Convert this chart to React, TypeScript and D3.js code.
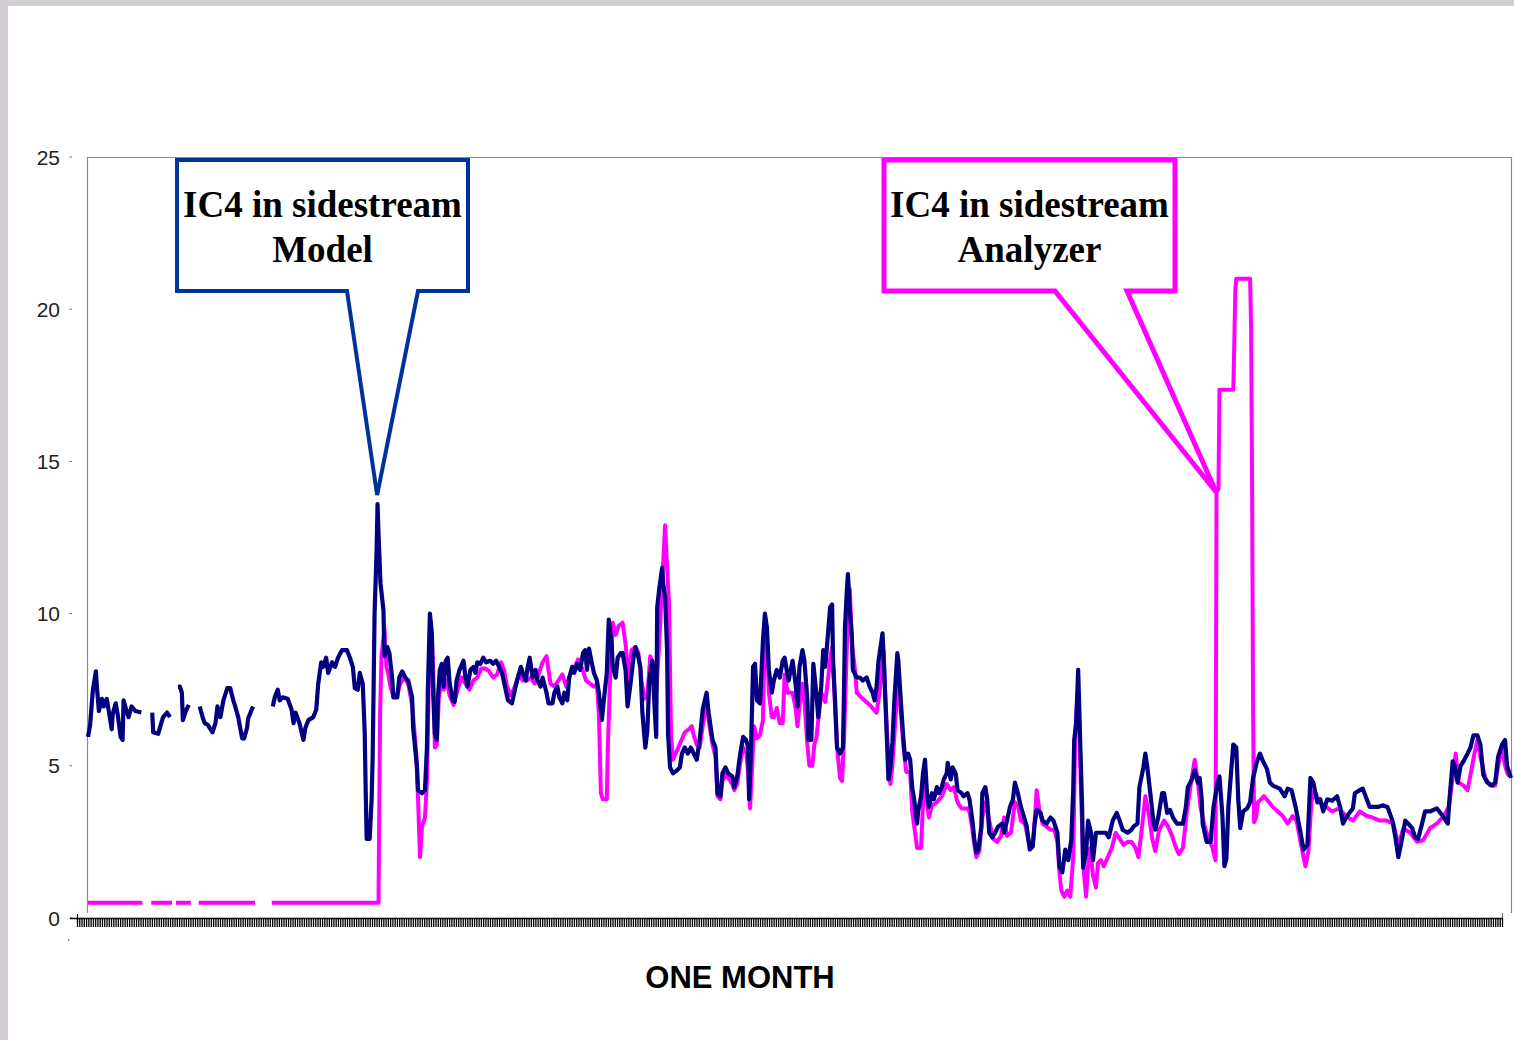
import React from 'react';
import * as d3 from 'd3';

type Pt = [number, number | null];

// y axis tick values
const yTickValues = [0, 5, 10, 15, 20, 25];
const xAxisTitle = 'ONE MONTH';
const modelCallout = ['IC4 in sidestream', 'Model'];
const analyzerCallout = ['IC4 in sidestream', 'Analyzer'];
const hoursInMonth = 720;
const axisCategoryCount = 628;

// IC4 in sidestream - Model  [hour, value]
const modelIC4: Pt[] = [
  [0,5.95],[1,6.3],[2.5,7.5],[4,8.1],[4.5,7.6],[5.5,6.8],[7,7.2],[8,6.95],[9.5,7.2],[10.5,6.8],[12,6.2],[12.5,6.7],[14,7.05],[15,6.7],[16.5,5.95],[17.5,5.85],[18,7.15],[19.5,6.8],[20.5,6.6],[22,6.95],[24,6.8],[27,6.75],[29.5,null],
  [32.5,6.75],[33,6.1],[35.5,6.05],[37.5,6.5],[38,6.6],[40,6.75],[41.5,6.6],[43.5,null],
  [45.5,7.6],[46.5,7.6],[47.5,7.4],[48,6.5],[49.5,6.8],[51,7.0],[54,null],
  [56.5,6.95],[58,6.6],[59,6.4],[60.5,6.35],[63,6.1],[64.5,6.4],[65.5,6.95],[67,6.6],[68.5,7.15],[70.5,7.55],[72,7.55],[73.5,7.15],[74.5,6.95],[76,6.6],[78,5.9],[79,5.9],[80.5,6.25],[81,6.55],[83.5,6.95],[88,null],
  [93.5,6.95],[94.5,7.25],[96,7.5],[97,7.15],[98.5,7.25],[101,7.2],[103,6.85],[104,6.4],[105,6.75],[107,6.4],[109,5.85],[110,6.25],[111.5,6.5],[114,6.6],[115.5,6.85],[116.5,7.7],[118,8.4],[119,8.25],[120.5,8.55],[121.5,8.05],[123.5,8.4],[125,8.25],[126.5,8.55],[128.5,8.8],[131,8.8],[132.5,8.55],[134,8.25],[135,7.55],[136.5,7.5],[137.5,8.05],[139,7.7],[139.5,6.95],[140,6.1],[140.5,4.2],[141,2.6],[142.5,2.6],[143.5,3.9],[144,5.2],[144.5,7.5],[145,10.0],[146,12.0],[146.5,13.6],[147,12.6],[148,11.0],[149.5,10.1],[150,8.6],[151.5,8.9],[152.5,8.7],[154,7.8],[154.5,7.25],[156.5,7.25],[157.5,7.9],[159,8.1],[160.5,7.9],[162,7.8],[164,7.25],[164.5,6.25],[166.5,4.95],[167,4.2],[169,4.1],[170.5,4.2],[171.5,5.6],[172,7.6],[173,10.0],[174,9.35],[174.5,7.6],[175.5,6.05],[176.5,5.85],[177,7.15],[178,8.15],[179,8.35],[180,7.6],[181,8.45],[182,8.55],[183,7.7],[184.5,7.15],[185.5,7.1],[186.5,7.8],[188,8.15],[190,8.45],[191,7.9],[192,7.6],[193.5,8.15],[195,8.25],[196,8.05],[197,8.4],[198.5,8.35],[200,8.55],[201.5,8.4],[203.5,8.45],[205,8.35],[206.5,8.45],[208,8.25],[209.5,8.05],[211,7.6],[212.5,7.15],[214.5,7.05],[216,7.5],[217.5,7.9],[219,8.25],[220,8.05],[221.5,7.8],[222.5,8.25],[223.5,8.55],[225,7.9],[226.5,8.15],[227.5,7.8],[229,7.6],[230,7.9],[232,7.4],[233,7.05],[235,7.05],[236,7.4],[237.5,7.6],[238.5,7.25],[240,7.05],[241,7.4],[242.5,7.15],[243.5,7.9],[245,8.25],[246,8.05],[247.5,8.35],[249,8.15],[250.5,8.7],[251.5,8.8],[252.5,8.15],[253.5,8.85],[255,8.35],[256,8.05],[257.5,7.8],[258.5,7.4],[260,6.5],[261,7.15],[262.5,8.05],[263.5,9.8],[265,9.0],[265.5,8.25],[267,7.9],[268,8.55],[269.5,8.7],[270.5,8.7],[272,8.15],[273,6.95],[274.5,7.7],[276,8.55],[277,8.9],[278,8.7],[279.5,8.25],[280.5,6.75],[282,5.6],[283,6.15],[284,7.8],[285.5,8.45],[286.5,7.15],[287.5,5.95],[288,10.2],[289,10.8],[290.5,11.5],[291,11.0],[292,10.55],[293,8.8],[293.5,6.05],[294.5,4.95],[296,4.75],[298,4.85],[299.5,4.95],[300.5,5.4],[302,5.6],[303.5,5.4],[305,5.6],[306.5,5.4],[308,5.2],[309.5,5.85],[311,6.85],[313,7.4],[314,6.75],[316,5.85],[317.5,5.6],[318.5,4.1],[320,4.0],[321,4.75],[322.5,4.95],[324,4.75],[326,4.65],[327,4.3],[328.5,4.65],[330,5.4],[331.5,5.95],[333,5.85],[334,5.6],[334.5,3.9],[335.5,5.6],[336.5,8.25],[337.5,8.35],[338.5,7.15],[340,7.05],[341.5,9.1],[342.5,10.0],[343.5,9.55],[344.5,8.15],[346,7.4],[347,7.8],[348.5,8.15],[350,7.9],[351.5,8.45],[352.5,8.55],[353.5,8.15],[354.5,7.8],[356.5,8.45],[358,7.7],[359,6.95],[360,8.25],[361.5,8.8],[362.5,8.45],[364,7.15],[364.5,5.85],[366,5.85],[367,8.35],[368.5,7.4],[369.5,6.6],[371,7.6],[372,8.8],[373,8.25],[374,9.0],[375.5,10.2],[376.5,10.3],[377,8.45],[378,7.15],[379,5.6],[380.5,5.4],[382,5.6],[382.5,7.4],[383,9.55],[384,10.8],[384.5,11.3],[385.5,10.1],[386.5,9.25],[387,8.15],[389,7.9],[390.5,7.9],[392,7.8],[394,7.9],[395.5,7.6],[397,7.4],[398,7.15],[399,7.6],[400,8.45],[402,9.35],[402.5,8.7],[403.5,7.05],[404.5,5.4],[405,4.55],[406,4.95],[407,5.75],[408,7.15],[409.5,8.7],[410,8.45],[411,7.4],[412.5,5.95],[413.5,5.2],[415,5.4],[416,5.2],[417,4.3],[418,3.9],[419.5,3.1],[420,3.5],[421.5,4.0],[422.5,4.75],[423.5,5.2],[424.5,4.1],[425.5,3.65],[427,4.1],[428,3.9],[429.5,4.3],[430.5,4.1],[432,4.3],[433,4.55],[434.5,4.75],[435,5.1],[436.5,4.55],[437.5,4.95],[439,4.75],[440,4.2],[442,4.1],[443,4.0],[445,4.1],[446,3.9],[447.5,3.2],[448.5,2.55],[449.5,2.15],[450.5,2.25],[452,3.0],[452.5,4.1],[454,4.3],[455,3.9],[456,2.8],[457.5,2.65],[459,2.8],[460.5,3.0],[462.5,3.1],[463.5,2.8],[465,3.2],[466.5,3.65],[468,3.9],[469,4.45],[470.5,4.1],[472,3.65],[473,3.45],[475,3.0],[476.5,2.25],[478,2.35],[479,3.1],[480,3.55],[482,3.45],[483,3.2],[485,3.1],[487,3.3],[488.5,3.2],[490.5,2.8],[491.5,1.7],[493,1.5],[494.5,2.25],[496,1.9],[497.5,2.55],[498.5,4.2],[499,5.85],[500,6.4],[501,8.15],[502,5.85],[503,3.65],[503.5,1.65],[505,2.15],[506,3.2],[507.5,2.8],[508.5,1.9],[510,2.8],[513,2.8],[515,2.8],[516.5,2.65],[518.5,3.2],[520.5,3.45],[522,3.2],[523.5,2.9],[526,2.8],[528,2.9],[529,3.0],[531,3.1],[532,4.3],[534,4.95],[535,5.4],[536,4.95],[537.5,4.1],[539,3.2],[540,2.9],[541.5,3.3],[543.5,4.1],[544.5,4.1],[546,3.45],[547.5,3.55],[549,3.3],[551,3.1],[554,3.1],[555.5,3.65],[556.5,4.3],[558.5,4.55],[560,4.85],[561.5,4.45],[562.5,4.6],[563.5,3.9],[564,3.1],[566,2.5],[568,2.5],[569.5,3.65],[571.5,4.45],[572.5,4.65],[574,3.35],[575,1.7],[576,1.95],[577,3.65],[579,5.3],[579.5,5.7],[581,5.6],[582,3.9],[583,2.95],[584.5,3.5],[586.5,3.6],[588,3.8],[589.5,4.6],[591.5,5.15],[593,5.4],[594.5,5.15],[596.5,4.9],[598,4.45],[599.5,4.35],[603,4.25],[605.5,4.0],[607,4.25],[609,4.2],[611,3.65],[613.5,2.8],[615,2.25],[617,2.4],[618.5,4.6],[620,4.45],[622,3.8],[623.5,3.9],[625,3.5],[627,3.9],[629.5,3.85],[632,4.0],[633.5,3.65],[635,3.1],[637,3.35],[640,3.6],[641,4.1],[643.5,4.2],[645,4.25],[647,3.9],[648.5,3.65],[653,3.65],[655,3.7],[657.5,3.65],[660,3.2],[661.5,2.65],[663,2.0],[665,2.65],[666.5,3.2],[668,3.1],[670,2.95],[671.5,2.65],[673,2.6],[675,3.1],[676.5,3.5],[679,3.5],[682.5,3.6],[685.5,3.35],[688,3.1],[689,4.0],[690.5,5.15],[691.5,5.0],[693,4.45],[694.5,5.0],[696,5.15],[698,5.4],[699.5,5.6],[701,6.0],[703,6.0],[704.5,5.7],[706,4.7],[708,4.45],[710.5,4.35],[712,4.45],[713.5,5.3],[715.5,5.7],[717,5.85],[718,5.0],[720,4.6]
];

// IC4 in sidestream - Analyzer  [hour, value]
const analyzerIC4: Pt[] = [
  [0,0.5],[27.5,0.5],[29.5,null],[32,0.5],[42.5,0.5],[43.5,null],[44.5,0.5],[52,0.5],[54,null],[56,0.5],[84.5,0.5],[88,null],[93,0.5],[147,0.5],[147.3,3.1],[147.8,6.7],[148.5,8.6],[150,9.5],[151,8.25],[152,8.0],[153,7.6],[154.5,7.3],[156.5,7.35],[158,7.7],[160,7.9],[162,7.7],[164,7.0],[166,5.5],[167,3.9],[168,2.0],[169,3.0],[170.5,3.3],[171.5,4.5],[172.5,8.0],[174,9.2],[175,7.5],[175.5,5.6],[176.5,5.7],[177.5,7.2],[179,7.9],[180,7.5],[181.5,7.8],[183,7.3],[185,7.0],[187,7.5],[189,7.9],[191,7.7],[193,7.5],[195,7.8],[197,7.9],[199,8.2],[201,8.2],[203,8.1],[205,7.9],[207,8.0],[209,8.4],[210.5,8.15],[212,7.6],[214,7.3],[216,7.6],[218,8.0],[220,7.8],[222,7.8],[224,7.9],[226,7.7],[228,8.0],[230,8.4],[232,8.6],[234,7.7],[236,7.6],[238,7.8],[240,8.0],[242,7.6],[244,8.0],[246,8.2],[248,8.5],[250,8.2],[252,7.8],[254,7.7],[256,7.6],[257.5,7.7],[258.5,6.7],[259.5,4.1],[260.5,3.9],[262.5,3.9],[263,5.5],[264,7.6],[265.5,9.7],[267,9.3],[268.5,9.6],[270.5,9.7],[272,9.0],[273.5,7.8],[275,8.8],[277,8.9],[278.5,8.7],[280,7.8],[281.5,7.2],[283,7.3],[284.5,8.6],[286,8.3],[287.5,7.4],[289,9.0],[290.5,11.0],[292,12.9],[293,11.5],[294,10.3],[295,6.0],[296,5.2],[298,5.5],[300,5.8],[302,6.1],[304,6.2],[305.5,6.3],[306.5,6.0],[308,5.7],[309.5,5.6],[311,6.3],[313,7.1],[314,6.5],[316,5.7],[317.5,5.3],[318.5,4.0],[320,3.9],[321,4.5],[322.5,4.7],[324,4.6],[326,4.4],[327,4.2],[328.5,4.4],[330,5.1],[331.5,5.6],[333,5.5],[334,4.8],[335,3.6],[336,4.9],[337,6.3],[338.5,5.9],[340,6.0],[341.5,6.5],[342.5,9.6],[343.5,9.3],[344.5,7.4],[346,6.6],[347,6.6],[348.5,6.9],[350,6.4],[351.5,6.4],[352.5,8.0],[354,7.4],[356.5,7.4],[358,6.9],[359,6.3],[360,7.0],[361.5,7.7],[362.5,7.1],[364,5.7],[365,5.0],[366.5,5.0],[367.5,5.7],[368.5,5.9],[371,7.4],[373,7.1],[374,7.6],[375.5,8.5],[376.5,8.9],[377.5,7.6],[379,5.6],[380.5,4.6],[381.5,4.5],[382.5,5.8],[384,9.0],[385.5,10.8],[386.5,9.0],[388,8.2],[389,7.4],[392,7.2],[395.5,7.0],[399,6.75],[400.5,7.4],[402.5,8.8],[403.5,7.2],[404.5,5.8],[406,4.4],[407,5.0],[408,6.0],[410,8.0],[411,7.0],[412.5,5.7],[414,4.8],[416,4.8],[417,3.5],[418.5,2.8],[419.5,2.3],[421.5,2.3],[422.5,3.8],[423.5,4.3],[424.5,3.8],[425.5,3.3],[427,3.7],[429.5,3.8],[432,4.0],[434.5,4.4],[436.5,4.2],[438,4.3],[440,3.8],[442,3.6],[445,3.6],[446,3.5],[447.5,2.9],[448.5,2.4],[449.5,2.0],[451,2.2],[452.5,3.3],[454,3.8],[456,3.2],[458,2.6],[460,2.5],[462,2.7],[463.5,3.3],[465,2.7],[467,2.8],[469,3.8],[470.5,3.7],[472,3.2],[474,3.1],[476,2.5],[478,2.4],[479,3.2],[480,4.2],[481.5,3.5],[483,3.1],[485,3.0],[487,2.9],[489,2.9],[490.5,2.5],[491.5,1.5],[492.5,0.9],[494,0.7],[495.5,0.9],[497,0.7],[498.5,2.0],[499.5,6.0],[500.5,7.2],[501.5,6.5],[502.5,4.0],[503.5,1.8],[505,0.7],[506,1.7],[507,2.3],[508.5,1.4],[510,1.0],[511,1.8],[512.5,1.9],[514,1.7],[516,2.0],[518,2.3],[520,2.8],[522,2.6],[524,2.4],[526,2.5],[528,2.5],[530,2.3],[531.5,2.0],[533,2.8],[535,4.0],[537,3.3],[538.5,2.6],[540,2.2],[542,2.9],[544.5,3.2],[546.5,3.0],[548.5,2.7],[550.5,2.3],[552,2.1],[554,2.3],[556,3.5],[558,4.4],[560,5.2],[561.5,4.5],[563,3.6],[565,3.0],[567,2.6],[569,2.3],[570.5,1.9],[571,14.0],[572,14.1],[572.5,17.35],[579.5,17.35],[580,18.9],[580.5,20.6],[581,21.0],[588,21.0],[588.5,19.4],[589,14.2],[589.5,6.8],[590,3.15],[591,3.3],[592,3.8],[593.5,3.9],[595,4.0],[597,3.85],[599.5,3.65],[602,3.5],[604.5,3.35],[607,3.1],[609.5,3.35],[611.5,3.2],[613.5,2.5],[616,1.7],[617.5,2.2],[619,3.8],[620.5,4.2],[623,3.8],[626.5,3.65],[629.5,3.5],[633,3.6],[636.5,3.35],[640,3.2],[643.5,3.5],[647,3.35],[650,3.3],[653.5,3.2],[657,3.2],[660.5,3.1],[663,2.4],[665.5,2.95],[669,2.8],[672.5,2.5],[675.5,2.55],[679,2.95],[682.5,3.1],[686,3.35],[688.5,3.65],[690.5,4.6],[692,5.4],[693.5,4.45],[696,4.35],[698,4.2],[699.5,4.7],[701.5,5.4],[703,5.85],[704.5,5.3],[707,4.6],[709.5,4.35],[712,4.35],[713.5,5.0],[715.5,5.6],[717,5.0],[718.5,4.7],[720,4.7]
];

const NAVY = '#000080';
const MAGENTA = '#ff00ff';
const CALLOUT_BLUE = '#003399';

export default function App() {
  const W = 1514, H = 1040;
  const x = d3.scaleLinear().domain([0, hoursInMonth]).range([88, 1511]);
  const y = d3.scaleLinear().domain([0, 25]).range([918, 157]);
  const cat = d3.scaleLinear().domain([0, axisCategoryCount]).range([77.5, 1502.5]);
  const line = d3.line<Pt>()
    .defined(d => d[1] !== null)
    .x(d => x(d[0]))
    .y(d => y(d[1] as number));
  const catTicks = d3.range(0, axisCategoryCount + 1);

  const sans = '"Liberation Sans", Arial, sans-serif';
  const serif = '"Liberation Serif", "Times New Roman", serif';

  const blueBox = { l: 177, r: 468, t: 160, b: 291 };
  const magBox = { l: 884, r: 1175, t: 160, b: 291 };
  const blueTip = [x(146.3), 495];
  const magTip = [x(570.8), 492];
  const bluePath = `M${blueBox.l},${blueBox.t}H${blueBox.r}V${blueBox.b}H418L${blueTip[0]},${blueTip[1]}L347,${blueBox.b}H${blueBox.l}Z`;
  const magPath = `M${magBox.l},${magBox.t}H${magBox.r}V${magBox.b}H1127L${magTip[0]},${magTip[1]}L1055,${magBox.b}H${magBox.l}Z`;

  return (
    <svg width={W} height={H} style={{ position: 'absolute', left: 0, top: 0, display: 'block', background: '#fff' }}>
      <rect x={0} y={0} width={W} height={H} fill="#fff" />
      <rect x={0} y={0} width={W} height={6} fill="#d2cdd2" />
      <rect x={0} y={0} width={8} height={H} fill="#d2cdd2" />

      {/* plot frame */}
      <path d="M87.5,913V157.5H1511.5V913" fill="none" stroke="#8c8c8c" strokeWidth={1.2} />

      {/* y axis ticks and labels */}
      {yTickValues.map(v => (
        <g key={v}>
          <line x1={69.5} x2={72} y1={y(v)} y2={y(v)} stroke="#666" strokeWidth={1} />
          <text x={60} y={y(v)} dy="0.36em" textAnchor="end" fontFamily={sans} fontSize={21} fill="#222">{v}</text>
        </g>
      ))}

      {/* x axis */}
      <line x1={70} x2={1503} y1={918.5} y2={918.5} stroke="#000" strokeWidth={1.6} />
      <line x1={77.5} x2={77.5} y1={914} y2={923} stroke="#000" strokeWidth={1.2} />
      <line x1={1502.5} x2={1502.5} y1={913} y2={919} stroke="#666" strokeWidth={1} />
      {catTicks.map(i => (
        <line key={i} x1={cat(i)} x2={cat(i)} y1={918} y2={927} stroke="#000" strokeWidth={1.3} />
      ))}
      <circle cx={68.5} cy={940} r={0.8} fill="#444" />

      {/* series */}
      <path d={line(analyzerIC4) || ''} fill="none" stroke={MAGENTA} strokeWidth={4} strokeLinejoin="round" />
      <path d={line(modelIC4) || ''} fill="none" stroke={NAVY} strokeWidth={4.2} strokeLinejoin="round" />

      {/* callouts */}
      <path d={bluePath} fill="#fff" stroke={CALLOUT_BLUE} strokeWidth={4} strokeLinejoin="miter" />
      <text x={(blueBox.l + blueBox.r) / 2} y={217} textAnchor="middle" fontFamily={serif} fontWeight="bold" fontSize={37} fill="#000">{modelCallout[0]}</text>
      <text x={(blueBox.l + blueBox.r) / 2} y={262} textAnchor="middle" fontFamily={serif} fontWeight="bold" fontSize={37} fill="#000">{modelCallout[1]}</text>

      <path d={magPath} fill="#fff" stroke={MAGENTA} strokeWidth={5} strokeLinejoin="miter" />
      <text x={(magBox.l + magBox.r) / 2} y={217} textAnchor="middle" fontFamily={serif} fontWeight="bold" fontSize={37} fill="#000">{analyzerCallout[0]}</text>
      <text x={(magBox.l + magBox.r) / 2} y={262} textAnchor="middle" fontFamily={serif} fontWeight="bold" fontSize={37} fill="#000">{analyzerCallout[1]}</text>

      {/* x axis title */}
      <text x={740} y={988} textAnchor="middle" fontFamily={sans} fontWeight="bold" fontSize={31} fill="#000">{xAxisTitle}</text>
    </svg>
  );
}
